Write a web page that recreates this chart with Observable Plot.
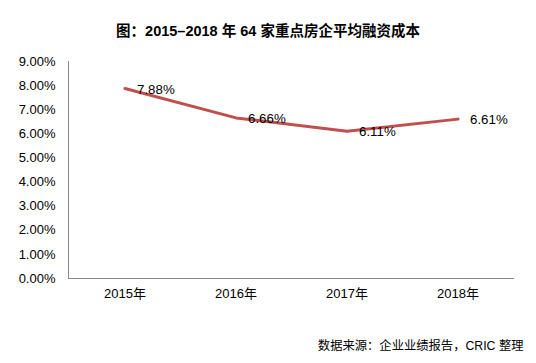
<!DOCTYPE html>
<html><head><meta charset="utf-8">
<script src="https://cdn.jsdelivr.net/npm/d3@7"></script>
<script src="https://cdn.jsdelivr.net/npm/@observablehq/plot@0.6"></script>
<style>body{margin:0;background:#fff}</style>
</head><body><div id="chart"></div>
<script>
const years = ["2015年", "2016年", "2017年", "2018年"];
const rates = [0.0788, 0.0666, 0.0611, 0.0661];
const rateLabels = ["7.88%", "6.66%", "6.11%", "6.61%"];
const yTicks = [0, 0.01, 0.02, 0.03, 0.04, 0.05, 0.06, 0.07, 0.08, 0.09];
const titleText = "图：2015–2018 年 64 家重点房企平均融资成本";
const sourceText = "数据来源：企业业绩报告，CRIC 整理";

const data = years.map((y, i) => ({year: y, rate: rates[i], label: rateLabels[i]}));
const font = "Liberation Sans, Arial, Noto Sans CJK SC, sans-serif";

const chart = Plot.plot({
  width: 536, height: 363,
  marginTop: 61, marginBottom: 85, marginLeft: 68, marginRight: 23,
  style: {fontFamily: font, background: "#fff", color: "#000"},
  x: {type: "band", domain: years, padding: 0, label: null},
  y: {domain: [0, 0.09], ticks: yTicks, tickFormat: d3.format(".2%"), label: null},
  marks: [
    Plot.frame({anchor: "left", stroke: "#898989"}),
    Plot.frame({anchor: "bottom", stroke: "#898989"}),
    Plot.axisY({ticks: yTicks, tickFormat: d3.format(".2%"), tickSize: 0, tickPadding: 13, fontSize: 13, label: null}),
    Plot.axisX({tickSize: 0, tickPadding: 10, fontSize: 13, label: null}),
    Plot.lineY(data, {x: "year", y: "rate", stroke: "#C0504D", strokeWidth: 3}),
    Plot.text(data, {x: "year", y: "rate", text: "label", textAnchor: "start", dx: 12, dy: 1, fontSize: 13.3, fill: "#000"}),
    Plot.text([titleText], {frameAnchor: "top", dx: -23, dy: -36, fontSize: 14.5, fontWeight: "bold", fill: "#000"}),
    Plot.text([sourceText], {frameAnchor: "bottom-right", textAnchor: "end", dx: 10, dy: 71, fontSize: 12.3, fill: "#000"})
  ]
});
document.getElementById("chart").appendChild(chart);
</script></body></html>
